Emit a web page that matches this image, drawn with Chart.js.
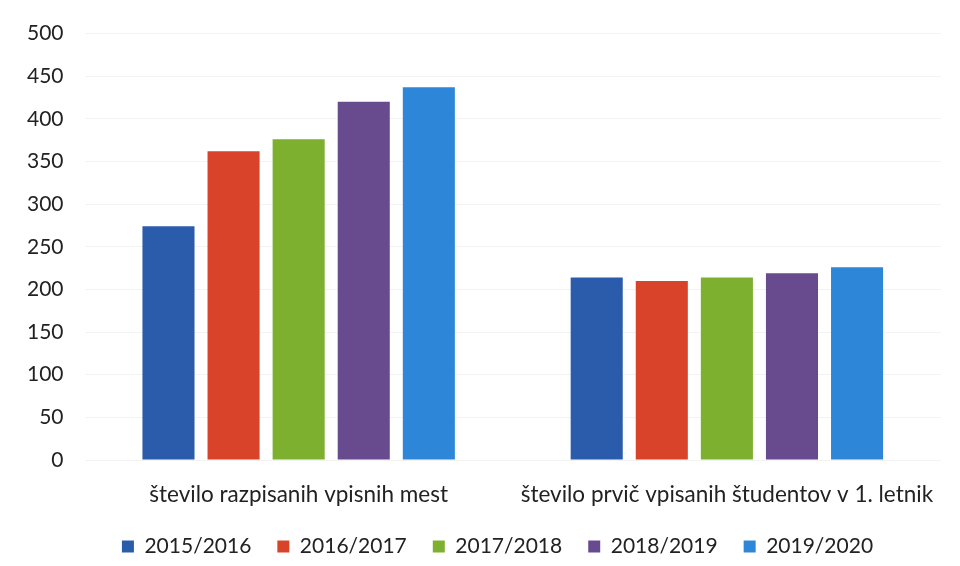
<!DOCTYPE html>
<html>
<head>
<meta charset="utf-8">
<script src="https://cdn.jsdelivr.net/npm/chart.js@4"></script>
<style>
  body { margin: 0; background: #fff; }
  #wrap { width: 960px; height: 566px; }
</style>
</head>
<body>
<div id="wrap"><canvas id="myChart"></canvas></div>
<script>
const kategorije = ["število razpisanih vpisnih mest", "število prvič vpisanih študentov v 1. letnik"];
const leta = ["2015/2016", "2016/2017", "2017/2018", "2018/2019", "2019/2020"];
const v2015 = [274, 214];
const v2016 = [362, 210];
const v2017 = [376, 214];
const v2018 = [420, 219];
const v2019 = [437, 226];
const barve = ["#2b5cab", "#d9432a", "#7cb02e", "#684b8f", "#2e86d9"];

const vrednosti = [v2015, v2016, v2017, v2018, v2019];

// legenda je v originalu malo desno od sredine
const zamikLegende = {
    id: "zamikLegende",
    afterLayout(chart) {
        chart.legend.left += 24;
        chart.legend.right += 24;
    },
};

const ctx = document.getElementById("myChart");

new Chart(ctx, {
    type: "bar",
    data: {
        labels: kategorije,
        datasets: leta.map((leto, i) => ({
            label: leto,
            data: vrednosti[i],
            backgroundColor: barve[i],
            barPercentage: 0.8,
            categoryPercentage: 0.76,
        })),
    },
    options: {
        responsive: true,
        maintainAspectRatio: false,
        animation: false,
        layout: {
            padding: { top: 23, right: 19, left: 6, bottom: -1 },
        },
        scales: {
            x: {
                grid: { display: false },
                border: { display: false },
                ticks: {
                    color: "#222",
                    font: { family: "Lato", size: 22.5 },
                    padding: 13,
                },
                afterFit: (scale) => {
                    scale.height -= 11;
                },
            },
            y: {
                min: 0,
                max: 500,
                ticks: {
                    stepSize: 50,
                    color: "#222",
                    font: { family: "Lato", size: 21 },
                    padding: 21,
                },
                grid: { color: "#f3f3f3", drawTicks: false },
                border: { display: false },
            },
        },
        plugins: {
            legend: {
                position: "bottom",
                labels: {
                    color: "#222",
                    font: { family: "Lato", size: 21 },
                    boxWidth: 12,
                    boxHeight: 12,
                    padding: 26,
                },
            },
            tooltip: { enabled: false },
        },
    },
    plugins: [zamikLegende],
});
</script>
</body>
</html>
